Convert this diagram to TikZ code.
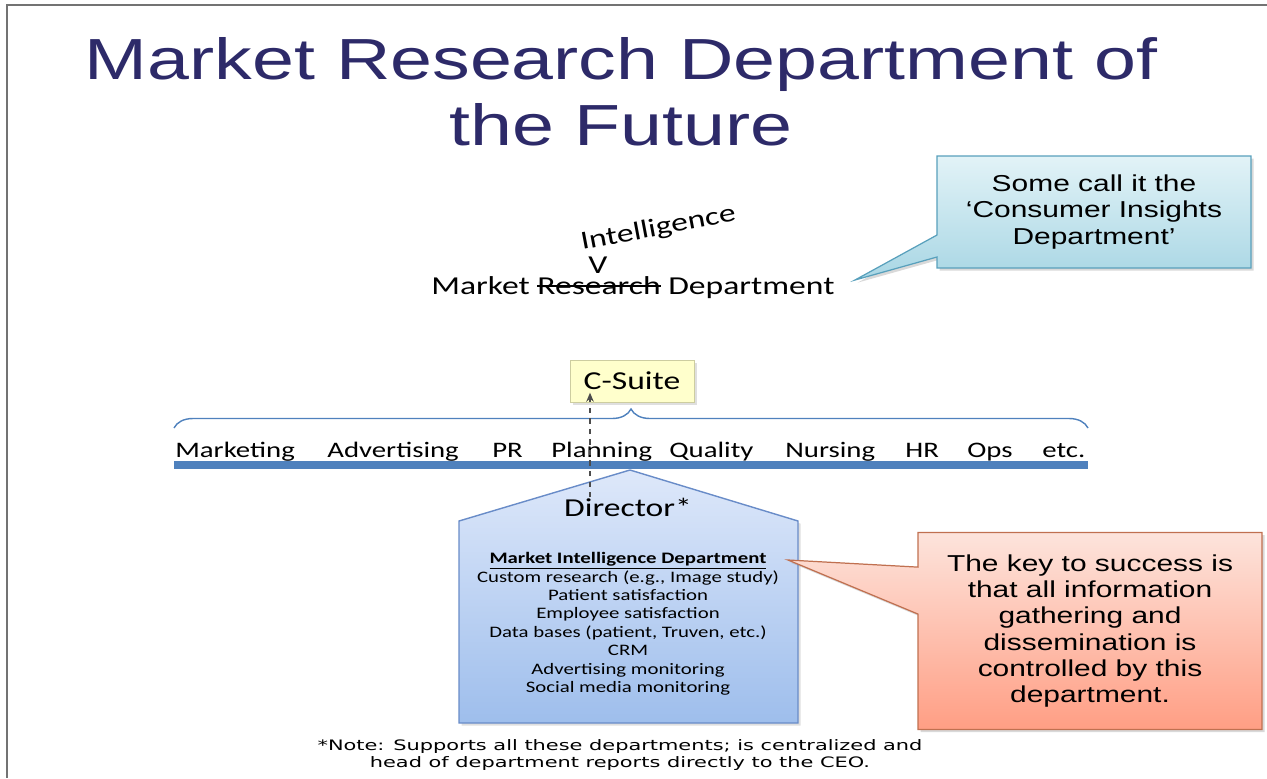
\documentclass[tikz,border=0pt]{standalone}
\usepackage{fontspec}
\usepackage{tikz}
\usetikzlibrary{arrows.meta,positioning,decorations.pathreplacing,shapes.callouts,shadows}

\newfontfamily\arialw{Liberation Sans}[FakeStretch=1.3]
\newfontfamily\calw{Carlito}[FakeStretch=1.3]
\newfontfamily\verdw{DejaVu Sans}[FakeStretch=1.45]

% struck-out word
\newcommand\strk[1]{\begingroup\setbox0\hbox{#1}\rlap{\rule[0.27em]{\wd0}{0.07em}}\box0\endgroup}

\definecolor{titleblue}{RGB}{45,42,105}
\definecolor{barblue}{RGB}{79,129,189}
\definecolor{houseline}{RGB}{105,140,200}
\definecolor{housetop}{RGB}{222,232,250}
\definecolor{housebot}{RGB}{158,190,236}
\definecolor{suitefill}{RGB}{255,255,204}
\definecolor{suiteline}{RGB}{205,205,160}
\definecolor{cyantop}{RGB}{226,243,247}
\definecolor{cyanbot}{RGB}{168,214,228}
\definecolor{cyanline}{RGB}{88,160,188}
\definecolor{redtop}{RGB}{253,228,220}
\definecolor{redbot}{RGB}{255,158,132}
\definecolor{redline}{RGB}{192,112,80}

\begin{document}
\begin{tikzpicture}[x=0.02cm,y=-0.02cm,
  heading/.style={font=\arialw\fontsize{33}{37.4}\selectfont,text=titleblue,align=center,inner sep=0pt},
  word/.style={font=\calw\fontsize{14.7}{17}\selectfont,inner sep=0pt},
  dept/.style={font=\calw\fontsize{12.6}{15}\selectfont,anchor=base west,inner sep=0pt},
  bubble/.style={rectangle callout,font=\arialw\fontsize{13.1}{15}\selectfont,align=center,line width=0.7pt,
    drop shadow={opacity=0.3,shadow xshift=1.5pt,shadow yshift=-1.5pt}},
  report/.style={-{Stealth[length=1.8mm,width=1.5mm]},dashed,line width=0.8pt,draw=black!70}
]
\useasboundingbox (0,0) rectangle (1267,778);
\draw[black!55,line width=1.3pt] (1267,5) -- (7,5) -- (7,778);

% title
\node[heading,anchor=north] (title) at (621,37) {Market Research Department of\\the Future};

% renamed department
\node[word,anchor=base west] (oldname) at (431,294) {Market \strk{Research} Department};
\node[word,anchor=base west,rotate=10.7] (newword) at (582,250) {Intelligence};
\node[word,anchor=base] (caret) at (598,273) {V};

\node[bubble,minimum width=6.28cm,minimum height=2.24cm,top color=cyantop,bottom color=cyanbot,draw=cyanline,
  callout absolute pointer={(855,280)},callout pointer width=0.44cm] (insights) at (1094,212)
  {Some call it the\\‘Consumer Insights\\Department’};

% top of the organisation
\node[word,draw=suiteline,fill=suitefill,minimum width=2.48cm,minimum height=0.84cm,
  drop shadow={opacity=0.25,shadow xshift=1.5pt,shadow yshift=-1.5pt}] (csuite) at (632,381) {C-Suite};
\draw[barblue,line width=0.8pt,decorate,decoration={brace,amplitude=0.38cm}] (174,428) -- (1088,428);

\node[dept] (mkt) at (175,457) {Marketing};
\node[dept] (adv) at (327,457) {Advertising};
\node[dept] (pr) at (492,457) {PR};
\node[dept] (plan) at (551,457) {Planning};
\node[dept] (qual) at (669,457) {Quality};
\node[dept] (nurs) at (785,457) {Nursing};
\node[dept] (hr) at (905,457) {HR};
\node[dept] (ops) at (967,457) {Ops};
\node[dept] (etc) at (1042,457) {etc.};
\fill[barblue] (174,461) rectangle (1088,469);

% market intelligence house
\draw[houseline,line width=0.8pt,top color=housetop,bottom color=housebot,
  drop shadow={opacity=0.25,shadow xshift=1.5pt,shadow yshift=-1.5pt}]
  (459,723) -- (459,521) -- (630,470) -- (798,521) -- (798,723) -- cycle;
\node[word,anchor=base] (director) at (628,516) {Director*};
\node[font=\calw\fontsize{9.1}{10.5}\selectfont,align=center,inner sep=0pt,anchor=north] (tasks) at (628,552)
  {\textbf{\underline{Market Intelligence Department}}\\
   Custom research (e.g., Image study)\\
   Patient satisfaction\\
   Employee satisfaction\\
   Data bases (patient, Truven, etc.)\\
   CRM\\
   Advertising monitoring\\
   Social media monitoring};

\coordinate (link) at (590,0);
\draw[report,shorten >=-5.5pt] (director.north -| link) -- (csuite.south -| link);

\node[bubble,minimum width=6.88cm,minimum height=3.94cm,top color=redtop,bottom color=redbot,draw=redline,
  callout absolute pointer={(788,560)},callout pointer width=0.94cm] (key) at (1090,631)
  {The key to success is\\that all information\\gathering and\\dissemination is\\controlled by this\\department.};

\node[font=\verdw\fontsize{8.2}{9.6}\selectfont,align=center,inner sep=0pt,anchor=base] (note) at (620,767)
  {*Note: Supports all these departments; is centralized and\\head of department reports directly to the CEO.};
\end{tikzpicture}
\end{document}
